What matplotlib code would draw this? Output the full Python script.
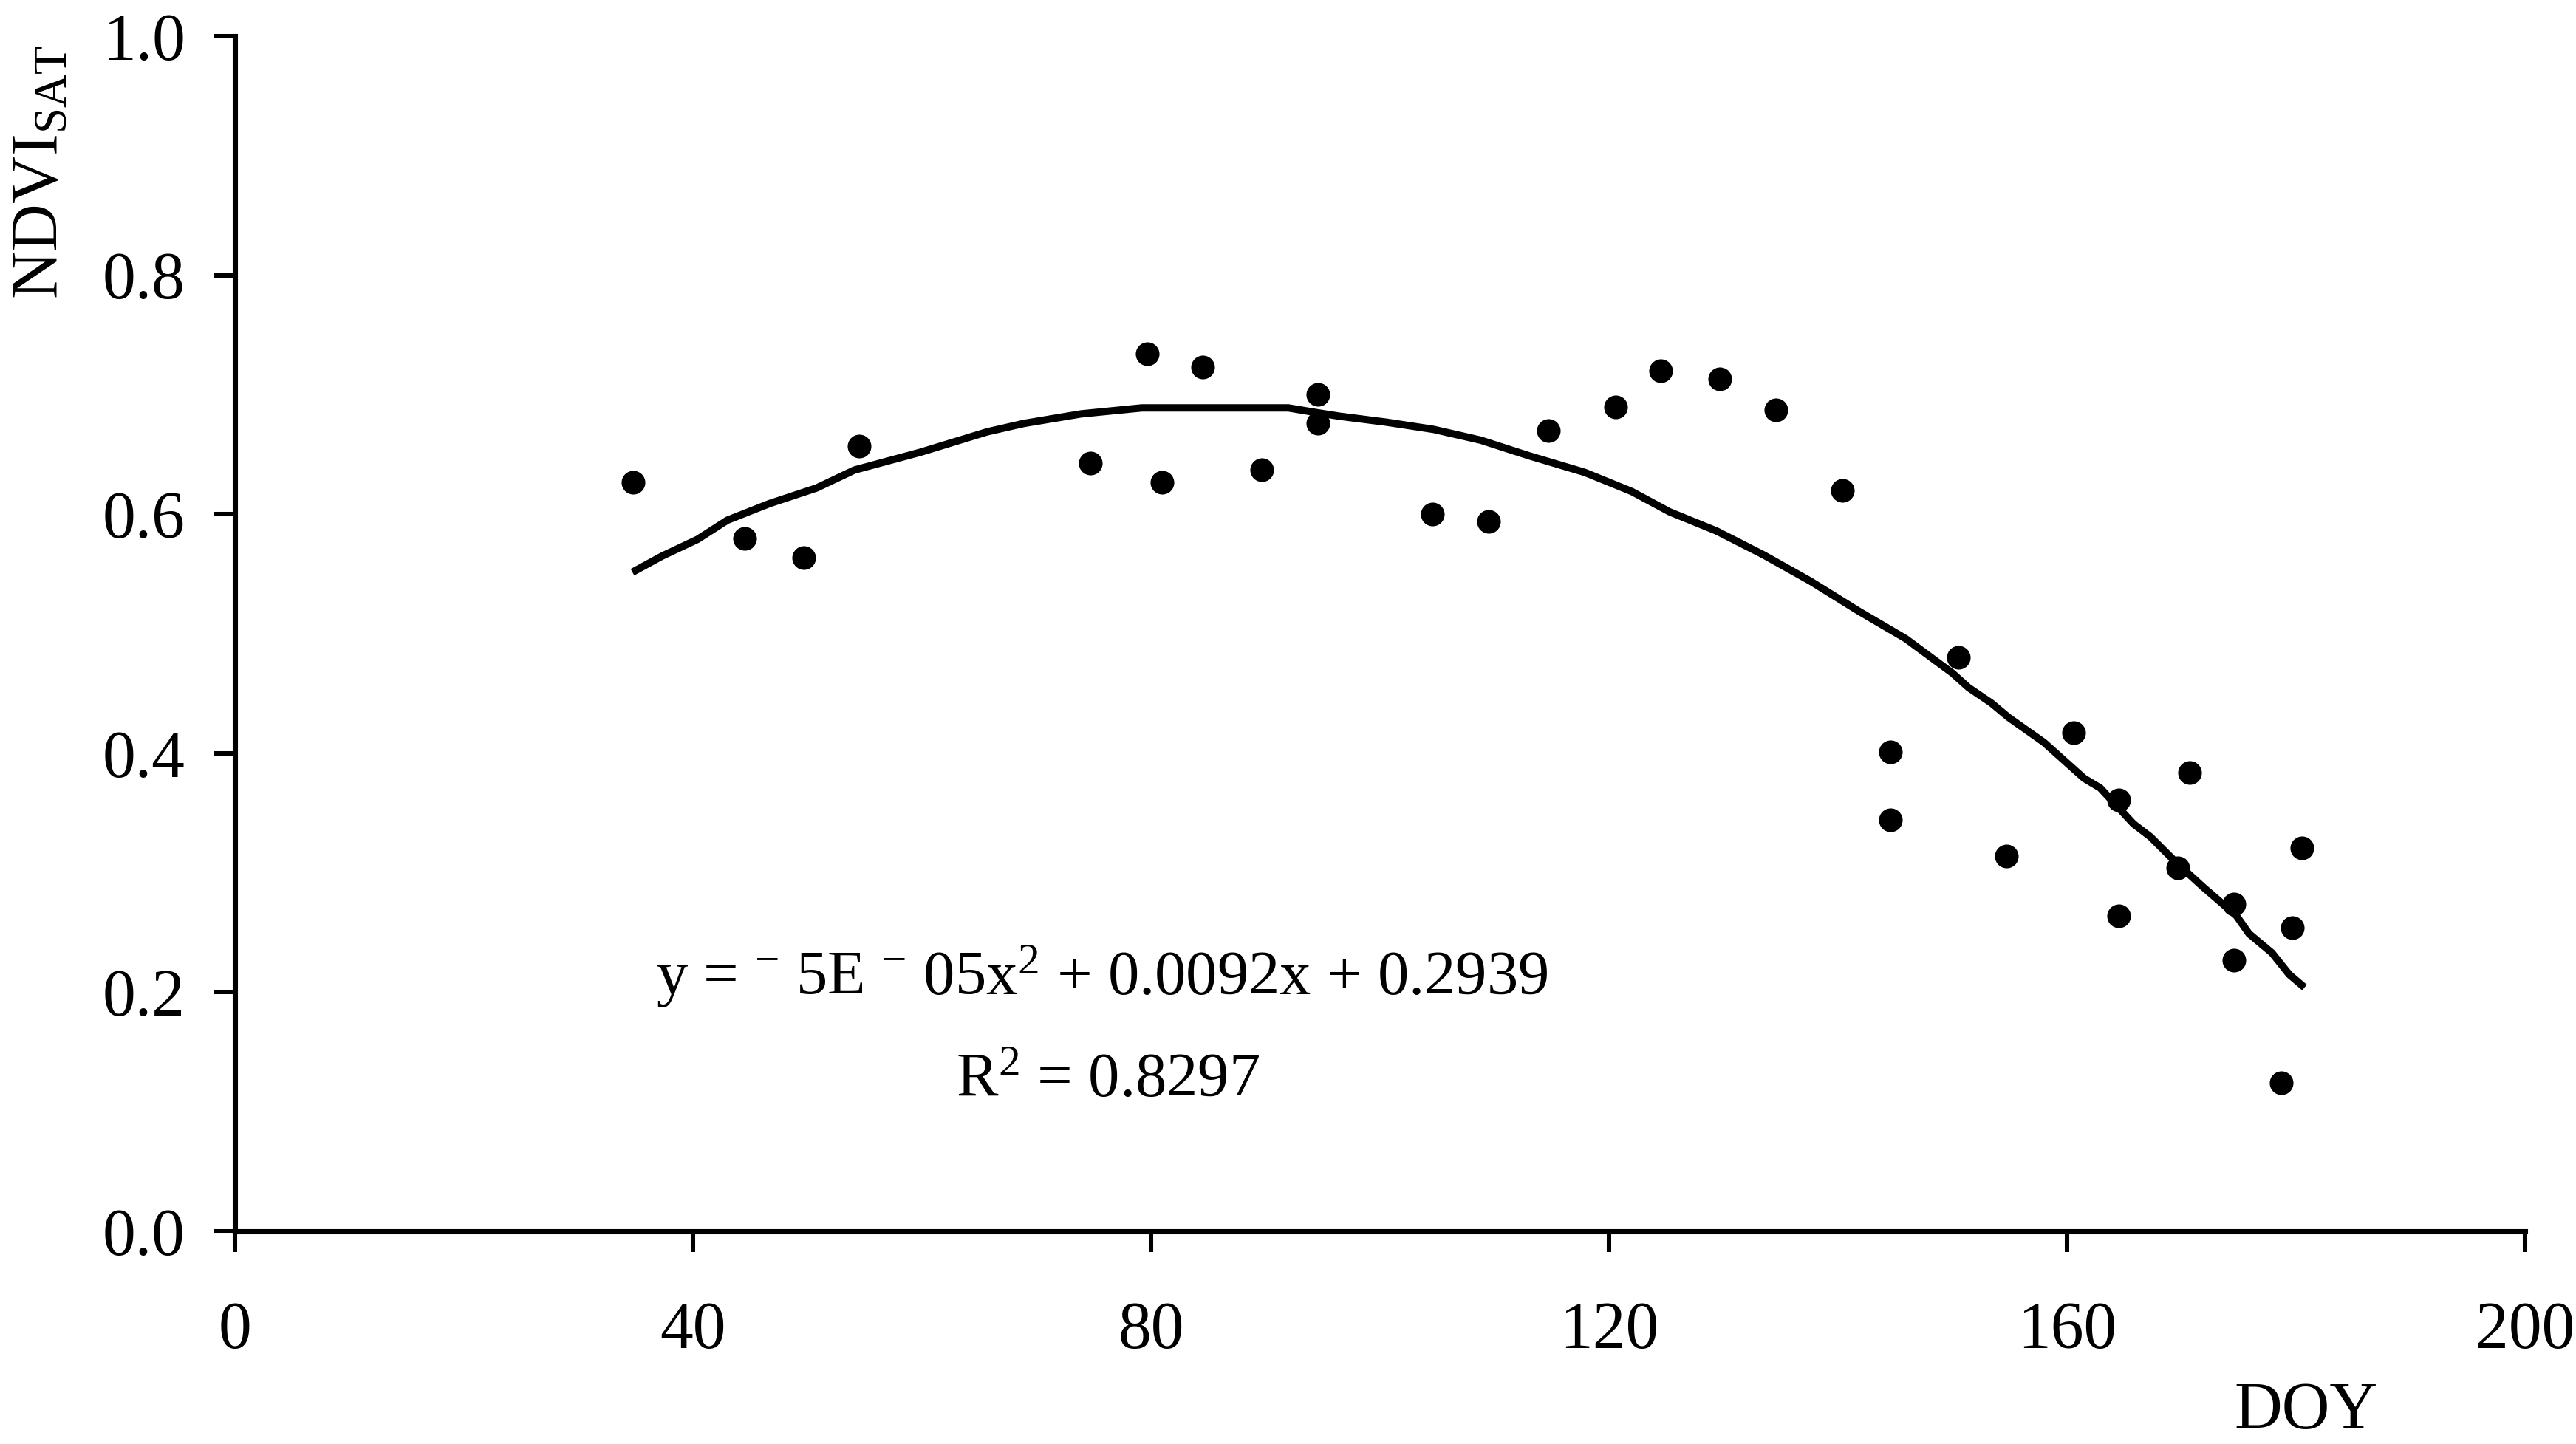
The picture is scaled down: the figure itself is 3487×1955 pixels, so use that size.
import matplotlib
matplotlib.use("Agg")
import matplotlib.pyplot as plt

# observed NDVI (satellite) vs day of year
doy = [34.8, 44.5, 49.7, 54.5, 74.7, 79.7, 81.0, 84.5, 89.7, 94.6, 94.6,
       104.6, 109.5, 114.7, 120.6, 124.5, 129.7, 134.6, 140.4, 144.6, 144.6,
       150.5, 154.7, 160.6, 164.5, 164.5, 169.7, 170.7, 174.6, 174.6, 178.7,
       179.7, 180.5]
ndvi = [0.627, 0.580, 0.564, 0.657, 0.643, 0.734, 0.627, 0.723, 0.637, 0.700, 0.676,
        0.600, 0.594, 0.670, 0.690, 0.720, 0.713, 0.687, 0.620, 0.401, 0.344,
        0.480, 0.314, 0.417, 0.361, 0.264, 0.304, 0.384, 0.274, 0.227, 0.124,
        0.254, 0.321]

# trend line as drawn in the figure
trend_doy = [35.0, 37.3, 40.4, 43.0, 46.7, 50.8, 54.1, 59.9, 65.7, 68.9, 73.9,
             79.2, 92.0, 94.5, 96.5, 100.6, 104.7, 108.8, 113.0, 117.9, 122.0,
             125.3, 129.4, 133.5, 137.6, 141.8, 145.9, 150.0, 151.4, 153.4, 154.9,
             158.0, 161.5, 162.9, 165.8, 167.3, 169.6, 171.9, 174.8, 175.9, 177.9,
             179.4, 180.5]
trend_ndvi = [0.553, 0.565, 0.579, 0.595, 0.609, 0.622, 0.637, 0.652, 0.669, 0.676, 0.684,
              0.689, 0.689, 0.685, 0.682, 0.677, 0.671, 0.662, 0.649, 0.635, 0.619,
              0.602, 0.586, 0.566, 0.544, 0.519, 0.496, 0.467, 0.455, 0.442, 0.430,
              0.409, 0.379, 0.371, 0.341, 0.330, 0.308, 0.288, 0.264, 0.249, 0.233,
              0.215, 0.206]

x_ticks = [0, 40, 80, 120, 160, 200]
y_ticks = [0.0, 0.2, 0.4, 0.6, 0.8, 1.0]
y_tick_labels = ["0.0", "0.2", "0.4", "0.6", "0.8", "1.0"]

equation = "y = $^{-}$ 5E $^{-}$ 05x$^{2}$ + 0.0092x + 0.2939"
r_squared = "R$^{2}$ = 0.8297"

plt.rcParams["font.family"] = ["Liberation Serif", "DejaVu Serif"]
plt.rcParams["mathtext.fontset"] = "custom"
plt.rcParams["mathtext.rm"] = "Liberation Serif"
plt.rcParams["mathtext.it"] = "Liberation Serif:italic"
plt.rcParams["mathtext.bf"] = "Liberation Serif:bold"

DPI = 300
fig = plt.figure(figsize=(3487 / DPI, 1955 / DPI), dpi=DPI)
ax = fig.add_axes([0.0912, 0.1473, 0.889, 0.8276])

ax.plot(doy, ndvi, "o", color="black", markersize=7.7, markeredgewidth=0)
ax.plot(trend_doy, trend_ndvi, color="black", linewidth=2.4, solid_joinstyle="miter")

ax.set_xlim(0, 200)
ax.set_ylim(0, 1.0)
ax.set_xticks(x_ticks)
ax.set_yticks(y_ticks)
ax.set_yticklabels(y_tick_labels)

for side in ["top", "right"]:
    ax.spines[side].set_visible(False)
for side in ["left", "bottom"]:
    ax.spines[side].set_linewidth(1.7)

ax.tick_params(axis="both", direction="out", length=6.7, width=1.45,
               labelsize=21.5, color="black")
ax.tick_params(axis="y", pad=9.5)
ax.tick_params(axis="x", pad=16)

# fit equation, Excel style
ax.text(75.7, 0.198, equation, ha="center", va="baseline", fontsize=20.3)
ax.text(76.2, 0.1125, r_squared, ha="center", va="baseline", fontsize=20.3)

fig.text(0.016, 0.969, r"NDVI$_{\mathrm{SAT}}$", rotation=90,
         ha="center", va="top", fontsize=21.5)
fig.text(0.8953, 0.001, "DOY", ha="center", va="bottom", fontsize=21.5)

fig.savefig("out.png", dpi=DPI, facecolor="white")
